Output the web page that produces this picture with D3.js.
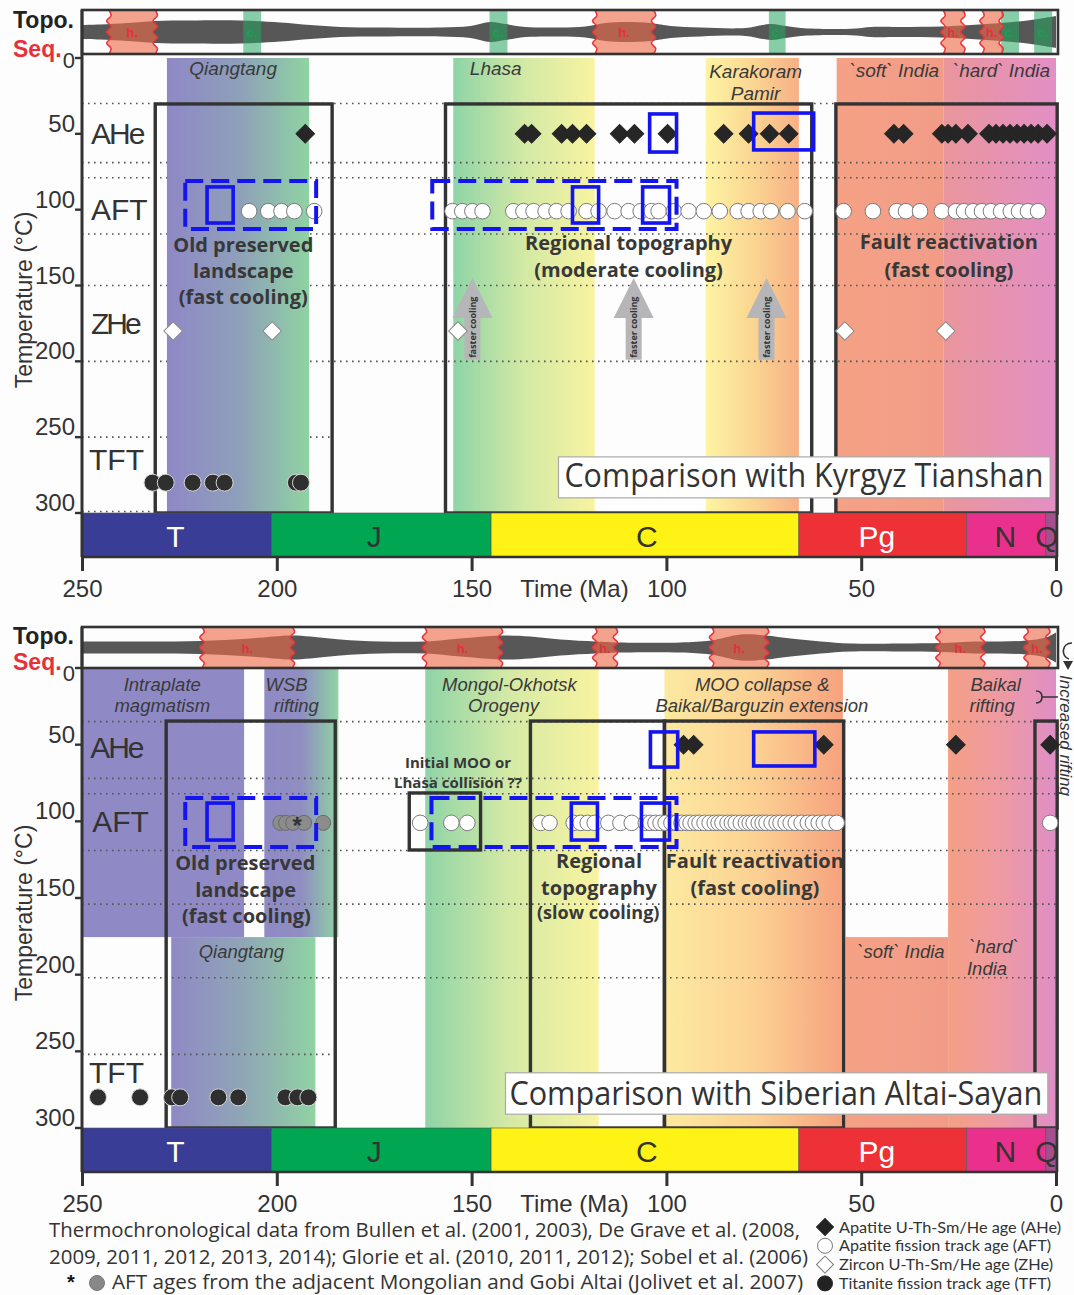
<!DOCTYPE html>
<html>
<head>
<meta charset="utf-8">
<title>Thermochronology comparison</title>
<script src="https://cdn.jsdelivr.net/npm/d3@7/dist/d3.min.js"></script>
<style>
  html, body { margin: 0; padding: 0; background: #fdfdfd; }
  svg { display: block; }
</style>
</head>
<body>
<svg id="chart" width="1074" height="1295"></svg>
<script>
// ---------------- data ----------------
const periodNames    = ["T", "J", "C", "Pg", "N", "Q"];
const periodBounds   = [250, 201.3, 145, 66, 23, 2.6, 0];
const periodLabelAge = [226, 175, 105, 46, 13, 2.3];
const timeTicks = [250, 200, 150, 100, 50, 0];
const tempTicks = [0, 50, 100, 150, 200, 250, 300];

// temperature (°C) of each method row
const rowTemp = { AHe: 50, AFT: 101, ZHe: 180, TFT: 280 };

// Kyrgyz Tianshan ages (Ma)
const kyrAHe = [192.7, 136.4, 134.6, 126.9, 124.1, 120.5, 112.0, 108.2, 99.7, 85.3, 78.9, 73.5, 68.6,
  41.6, 39.1, 29.3, 27.7, 25.7, 22.6, 17.2, 15.4, 13.6, 11.8, 10.0, 8.2, 6.4, 4.6, 2.3];
const kyrAFT = [207.1, 202.2, 198.8, 195.5, 190.4, 154.9, 152.4, 149.8, 147.2, 139.3, 136.7, 134.1,
  131.0, 128.2, 125.1, 120.5, 117.4, 113.3, 109.7, 106.6, 103.8, 102.0, 98.1, 94.3, 90.4, 86.3, 81.7,
  78.9, 75.8, 73.2, 68.9, 64.5, 54.5, 47.0, 40.9, 38.5, 34.9, 29.3, 25.7, 23.6, 21.3, 19.0, 16.7,
  14.1, 11.6, 9.5, 7.2, 4.6];
const kyrZHe = [226.6, 201.2, 153.5, 54.2, 28.3];
const kyrTFT = [231.9, 228.5, 221.6, 216.4, 213.4, 195.1, 193.8];

// Siberian Altai-Sayan ages (Ma)
const altAHe = [95.6, 93.0, 59.6, 25.7, 1.5];
const altAFT = [163.2, 155.2, 151.1, 132.3, 130.0, 123.8, 122.0, 120.2, 118.4, 114.9, 111.8, 108.9,
  105.3, 104.1, 102.8, 101.5, 100.2, 98.7, 97.4, 96.1, 94.8, 93.8, 92.5, 91.5, 90.2, 88.9, 87.6, 86.6,
  85.6, 84.3, 83.2, 82.2, 80.9, 79.6, 78.6, 77.6, 76.3, 75.3, 74.3, 73.0, 71.7, 70.7, 69.4, 68.1,
  66.8, 65.3, 63.7, 62.4, 60.9, 59.6, 58.1, 56.3, 1.5];
const altAFTMongolia = [199.1, 197.6, 195.8, 193.0, 188.1];
const altTFT = [245.9, 235.1, 226.9, 224.8, 215.0, 209.9, 197.8, 194.7, 191.9];

// topographic sequence: [age Ma, relative relief]
const kyrTopo = [[250, 7], [245.4, 7.5], [238.2, 9], [231.2, 11], [222.3, 11.5], [209.4, 11.5],
  [199.1, 9.5], [191.4, 7], [183.7, 5], [173.4, 4.5], [158, 4.5], [150.3, 6], [145.2, 10], [141.3, 8],
  [136.2, 5], [127.2, 4.5], [120.8, 5.5], [115.6, 9], [110.5, 10], [104.1, 9], [98.9, 6], [91.2, 4.5],
  [79.7, 4], [73.2, 8], [69.4, 6], [65.5, 4], [57.8, 3], [51.4, 3.5], [47.5, 5], [39.8, 5], [29.5, 5.5],
  [21.8, 7], [14.1, 9], [6.4, 12], [0, 16]];
const altTopo = [[250, 6], [232.5, 6], [219.7, 6.5], [206.8, 9], [196.5, 12], [191.4, 11], [183.7, 8],
  [173.4, 6], [161.9, 6], [152.9, 9], [142.6, 12], [134.9, 11], [127.2, 8], [118.2, 6], [111.8, 5],
  [96.4, 5], [88.6, 7], [80.9, 13], [74.5, 12], [68.1, 9], [60.4, 6], [52.7, 4], [39.8, 4], [29.5, 4.5],
  [20.6, 6], [14.1, 6], [7.7, 7], [2.6, 10], [0, 15]];

// hiatus (h.) and conglomerate (c.) intervals [older, younger] Ma
const kyrHiatus = [[243.1, 231.2], [118.4, 103.3], [29.0, 23.9], [19.0, 14.1]];
const kyrConglomerate = [[208.6, 204.0], [145.4, 140.8], [73.7, 69.4], [14.1, 9.5], [5.6, 1.0]];
const altHiatus = [[219.2, 196.0], [162.1, 142.6], [118.4, 113.1], [88.4, 74.3], [30.3, 18.8], [7.7, 2.1]];

// tectonic background intervals: [id, older Ma, younger Ma, top °C, bottom °C]
const kyrBands = [["qiangtang", 228.2, 191.7, 0, 300], ["lhasa", 154.7, 118.4, 0, 300],
  ["karakoram", 89.9, 66.0, 0, 300], ["softIndia", 56.3, 28.8, 0, 300], ["hardIndia", 28.8, 0, 0, 300]];
const altBands = [["intraplate", 250, 208.4, 0, 175.5], ["wsb", 203.2, 184.2, 0, 175.5],
  ["qiangtang2", 227.1, 190.1, 175.5, 300], ["mooOrogeny", 161.9, 117.4, 0, 300],
  ["mooCollapse", 100.5, 54.7, 0, 300], ["softIndia2", 54.0, 27.7, 175.5, 300], ["baikal", 27.7, 0, 0, 300]];

// interpreted cooling windows [older, younger, top °C, bottom °C]
const kyrWindows = [[231.2, 185.8, 30.3, 300], [156.7, 62.7, 30.3, 300], [56.5, -0.3, 30.3, 300]];
const altWindows = [[228.4, 185.0, 34.6, 300], [166.0, 147.7, 81.5, 118.7], [134.9, 100.5, 34.6, 300],
  [100.5, 54.5, 34.6, 300], [5.4, -0.3, 34.6, 300]];
const kyrDashed = [[223.5, 189.9, 81.1, 112.7], [160.1, 97.4, 81.1, 112.7]];
const altDashed = [[223.5, 189.9, 84.8, 116.8], [160.3, 97.4, 84.8, 116.8]];
const kyrPeaks = [[217.9, 211.2, 85, 108.8], [124.1, 117.4, 85, 108.8], [106.1, 99.2, 85, 108.8],
  [104.3, 97.4, 36.9, 62], [77.6, 62.2, 36.3, 60.6]];
const altPeaks = [[217.9, 211.2, 88.1, 112.2], [124.4, 117.7, 88.1, 112.2], [106.4, 99.2, 88.1, 112.2],
  [104.1, 97.1, 41.7, 64.6], [77.6, 61.9, 41.7, 63.9]];

// "faster cooling" arrows (age Ma)
const kyrArrows = [149.8, 108.4, 74.3];

// text annotations [text, age Ma, °C]
const kyrRegions = [["Qiangtang", 211.2, 11.2], ["Lhasa", 143.8, 11.2], ["Karakoram", 77.1, 13.2],
  ["Pamir", 77.1, 27.7], ["`soft` India", 41.5, 12.8], ["`hard` India", 14.0, 12.8]];
const kyrNotes = [["Old preserved", 208.6, 127.9], ["landscape", 208.6, 145.0], ["(fast cooling)", 208.6, 162.2],
  ["Regional topography", 109.7, 126.6], ["(moderate cooling)", 109.7, 144.4],
  ["Fault reactivation", 27.5, 125.9], ["(fast cooling)", 27.5, 144.4]];
const altRegions = [["Intraplate", 229.4, 15.3], ["magmatism", 229.4, 28.7], ["WSB", 197.5, 15.3],
  ["rifting", 195.0, 28.7], ["Mongol-Okhotsk", 140.3, 15.3], ["Orogeny", 141.8, 28.7],
  ["MOO collapse &", 75.4, 15.3], ["Baikal/Barguzin extension", 75.5, 28.7], ["Baikal", 15.5, 15.3],
  ["rifting", 16.4, 28.7], ["Qiangtang", 209.1, 189.2], ["`soft` India", 39.8, 189.2],
  ["`hard`", 15.9, 186], ["India", 17.7, 200]];
const altNotes = [["Old preserved", 208.1, 131.8], ["landscape", 208.0, 149.4], ["(fast cooling)", 207.8, 166.3],
  ["Regional", 117.3, 130.5], ["topography", 117.3, 148.1], ["Fault reactivation", 77.3, 130.5],
  ["(fast cooling)", 77.3, 148.1]];

// ---------------- drawing ----------------
const ARIAL = "'Liberation Sans', Arial, sans-serif";
const SEGOE = "'Open Sans', 'Noto Sans', sans-serif";
const INK = "#333";

const svg = d3.select("#chart");
const defs = svg.append("defs");
const x = d3.scaleLinear().domain([250, 0]).range([82, 1056]);
const relief = d3.scaleLinear().domain([0, 20]).range([0, 20]);

const bandStops = {
  qiangtang: ["#8f88c6", "#8e9fba", "#8fd3a2"],
  lhasa: ["#8ed4a7", "#d3e9a5", "#f8f3a0"],
  karakoram: ["#fdf4a3", "#fbd692", "#f7b085"],
  softIndia: ["#f5a185", "#f29c88"],
  hardIndia: ["#e9969c", "#e38fc5"],
  intraplate: ["#8f89c5", "#8f89c5"],
  wsb: ["#8f89c5", "#8f8ec1", "#8fd3a3"],
  qiangtang2: ["#8f89c6", "#8fa6b6", "#8fd3a3"],
  mooOrogeny: ["#8fd4a7", "#d6eaa5", "#f8f3a0"],
  mooCollapse: ["#fde9a0", "#fcd293", "#f6a27e"],
  softIndia2: ["#f5a185", "#f29c88"],
  baikal: ["#f49f85", "#ee9aa4", "#df8ec6"]
};
Object.entries(bandStops).forEach(([id, cols]) => {
  const lg = defs.append("linearGradient").attr("id", "g-" + id)
    .attr("x1", 0).attr("x2", 1).attr("y1", 0).attr("y2", 0);
  cols.forEach((c, i) => lg.append("stop").attr("offset", i / (cols.length - 1)).attr("stop-color", c));
});
const periodColors = ["#3a3d96", "#00a651", "#fff215", "#ed3136", "#e8308c", "#a4508f"];
const periodText = ["#fff", INK, INK, "#fff", INK, INK];

function rectOf(g, r, y) {
  return g.append("rect")
    .attr("x", x(r[0])).attr("width", x(r[1]) - x(r[0]))
    .attr("y", y(r[2])).attr("height", y(r[3]) - y(r[2]));
}

const waveLine = d3.line().curve(d3.curveCatmullRom);
function wavyEdge(xe, y0, y1, sign) {
  const n = 8;
  return d3.range(n + 1).map(i => [xe + ((i > 0 && i < n) ? (i % 2 ? 2.2 : -2.2) * sign : 0), y0 + (y1 - y0) * i / n]);
}

function drawPanel(p) {
  const y = p.y;
  const g = svg.append("g");

  // background bands
  const bandG = g.append("g");
  p.bands.forEach(b => {
    if (p.bandsOverGrid && p.bandsOverGrid.includes(b[0])) return;
    rectOf(bandG, b.slice(1), y).attr("fill", `url(#g-${b[0]})`);
  });

  // closure-temperature reference lines
  p.grid.forEach(gl => {
    g.append("line").attr("x1", x(gl[1])).attr("x2", x(gl[2]))
      .attr("y1", y(gl[0])).attr("y2", y(gl[0]))
      .attr("stroke", "#555").attr("stroke-width", 1.6).attr("stroke-dasharray", "1.6,4.4");
  });
  p.bands.forEach(b => {
    if (p.bandsOverGrid && p.bandsOverGrid.includes(b[0])) rectOf(g, b.slice(1), y).attr("fill", `url(#g-${b[0]})`);
  });

  // cooling windows
  p.windows.forEach(w => rectOf(g, w, y).attr("fill", "none").attr("stroke", INK).attr("stroke-width", 3.4));

  // faster-cooling arrows
  (p.arrows || []).forEach(a => {
    const cx = x(a);
    const pts = [[cx, y(145)], [cx + 20, y(171.4)], [cx + 8, y(171.4)], [cx + 8, y(199)],
      [cx - 8, y(199)], [cx - 8, y(171.4)], [cx - 20, y(171.4)]];
    g.append("path").attr("d", d3.line()(pts) + "Z").attr("fill", "#b6b6b8");
    g.append("text").attr("transform", `translate(${cx + 3.5},${y(177.5)}) rotate(-90)`)
      .attr("text-anchor", "middle").attr("font-family", SEGOE).attr("font-weight", 700)
      .attr("font-size", 9).attr("fill", INK).text("faster cooling");
  });

  // region names
  p.regions.forEach(r => {
    g.append("text").attr("x", x(r[1])).attr("y", y(r[2])).attr("text-anchor", "middle")
      .attr("font-family", ARIAL).attr("font-style", "italic").attr("font-size", p.regionSize)
      .attr("fill", "#3a3a3a").text(r[0]);
  });
  // interpretation notes
  p.notes.forEach(r => {
    g.append("text").attr("x", x(r[1])).attr("y", y(r[2])).attr("text-anchor", "middle")
      .attr("font-family", SEGOE).attr("font-weight", 700).attr("font-size", r[3] || 20)
      .attr("fill", "#383838").text(r[0]);
  });

  // data points
  const byAge = arr => arr.slice().sort((a, b) => b - a);
  const diamond = (ages, t, fill, stroke, half) => g.append("g").selectAll("path").data(byAge(ages)).join("path")
    .attr("d", d3.symbol(d3.symbolSquare, 2 * half * half)())
    .attr("transform", d => `translate(${x(d)},${y(t)}) rotate(45)`)
    .attr("fill", fill).attr("stroke", stroke).attr("stroke-width", 1);
  const circle = (ages, t, fill, stroke, r) => g.append("g").selectAll("circle").data(byAge(ages)).join("circle")
    .attr("cx", d => x(d)).attr("cy", y(t)).attr("r", r)
    .attr("fill", fill).attr("stroke", stroke).attr("stroke-width", 1);
  if (p.AHe) diamond(p.AHe, rowTemp.AHe, "#262626", "#262626", 9.3);
  if (p.ZHe) diamond(p.ZHe, rowTemp.ZHe, "#fff", "#8a8a8a", 9.3);
  if (p.AFTgrey) circle(p.AFTgrey, rowTemp.AFT, "#8c8c8c", "#6a6a6a", 7.5);
  if (p.AFT) circle(p.AFT, rowTemp.AFT, "#fff", "#7a7a7a", 7.8);
  if (p.TFT) circle(p.TFT, rowTemp.TFT, "#2f2f2f", "#d8d8d8", 8.5);
  if (p.star) g.append("text").attr("x", x(p.star[0])).attr("y", y(p.star[1])).attr("text-anchor", "middle")
    .attr("font-family", ARIAL).attr("font-weight", 700).attr("font-size", 24).attr("fill", INK).text("*");

  // age-peak boxes
  p.dashed.forEach(w => rectOf(g, w, y).attr("fill", "none").attr("stroke", "#1414f0")
    .attr("stroke-width", 4).attr("stroke-dasharray", "18,8"));
  p.peaks.forEach(w => rectOf(g, w, y).attr("fill", "none").attr("stroke", "#1414f0").attr("stroke-width", 3.6));

  // comparison title
  rectOf(g, p.title.box, y).attr("fill", "#fff").attr("stroke", "#aaa").attr("stroke-width", 1.2);
  g.append("text").attr("x", x(p.title.at[0])).attr("y", y(p.title.at[1])).attr("text-anchor", "middle")
    .attr("font-family", SEGOE).attr("font-size", 32).attr("fill", INK)
    .attr("textLength", p.title.len).attr("lengthAdjust", "spacingAndGlyphs").text(p.title.text);

  // method labels
  p.methods.forEach(m => {
    g.append("text").attr("x", x(m[1])).attr("y", y(m[2])).attr("font-family", ARIAL)
      .attr("font-size", 30).attr("letter-spacing", m[3]).attr("fill", INK).text(m[0]);
  });

  // topographic sequence strip
  const [t0, t1] = p.topo;
  const mid = (t0 + t1) / 2;
  const clipId = "clip-" + p.key;
  defs.append("clipPath").attr("id", clipId).append("rect")
    .attr("x", x(250)).attr("y", t0).attr("width", x(0) + 2 - x(250)).attr("height", t1 - t0);
  const tg = g.append("g").attr("clip-path", `url(#${clipId})`);
  tg.append("path").datum(p.topoProfile)
    .attr("d", d3.area().x(d => x(d[0])).y0(d => mid - relief(d[1])).y1(d => mid + relief(d[1]))
      .curve(d3.curveCatmullRom)).attr("fill", "#575757");
  (p.conglomerate || []).forEach(c => {
    tg.append("rect").attr("x", x(c[0])).attr("width", x(c[1]) - x(c[0])).attr("y", t0).attr("height", t1 - t0)
      .attr("fill", "#27a862").attr("fill-opacity", 0.55);
    tg.append("text").attr("x", (x(c[0]) + x(c[1])) / 2).attr("y", mid + 5).attr("text-anchor", "middle")
      .attr("font-family", ARIAL).attr("font-weight", 700).attr("font-size", 13).attr("fill", "#17a050").text("c.");
  });
  p.hiatus.forEach(h => {
    const L = wavyEdge(x(h[0]), t0, t1, 1), R = wavyEdge(x(h[1]), t1, t0, 1);
    const fillPath = waveLine(L) + "L" + waveLine(R).slice(1) + "Z";
    tg.append("path").attr("d", fillPath).attr("fill", "#ee6a4a").attr("fill-opacity", 0.62);
    tg.append("path").attr("d", waveLine(L)).attr("fill", "none").attr("stroke", "#e8343a").attr("stroke-width", 1.6);
    tg.append("path").attr("d", waveLine(R)).attr("fill", "none").attr("stroke", "#e8343a").attr("stroke-width", 1.6);
    tg.append("text").attr("x", (x(h[0]) + x(h[1])) / 2).attr("y", mid + 5).attr("text-anchor", "middle")
      .attr("font-family", ARIAL).attr("font-weight", 700).attr("font-size", 13).attr("fill", "#e5303a").text("h.");
  });
  g.append("rect").attr("x", x(250)).attr("y", t0).attr("width", x(0) + 2 - x(250)).attr("height", t1 - t0)
    .attr("fill", "none").attr("stroke", INK).attr("stroke-width", 2.6);
  g.append("text").attr("x", 13).attr("y", p.topoLabelY[0]).attr("font-family", ARIAL).attr("font-weight", 700)
    .attr("font-size", 23).attr("fill", "#222").text("Topo.");
  g.append("text").attr("x", 13).attr("y", p.topoLabelY[1]).attr("font-family", ARIAL).attr("font-weight", 700)
    .attr("font-size", 23).attr("fill", "#e8303a").text("Seq.");

  // geological time bar
  const barTop = y(300), barBot = barTop + 44;
  periodNames.forEach((nm, i) => {
    g.append("rect").attr("x", x(periodBounds[i])).attr("width", x(periodBounds[i + 1]) - x(periodBounds[i]))
      .attr("y", barTop).attr("height", barBot - barTop).attr("fill", periodColors[i])
      .attr("stroke", "#555").attr("stroke-width", 0.6);
    g.append("text").attr("x", x(periodLabelAge[i])).attr("y", barTop + 34).attr("text-anchor", "middle")
      .attr("font-family", ARIAL).attr("font-size", 30).attr("fill", periodText[i]).text(nm);
  });
  g.append("line").attr("x1", x(250)).attr("x2", x(0) + 1.5).attr("y1", barBot).attr("y2", barBot)
    .attr("stroke", INK).attr("stroke-width", 2.6);
  g.append("line").attr("x1", x(0) + 1).attr("x2", x(0) + 1).attr("y1", barTop).attr("y2", barBot)
    .attr("stroke", INK).attr("stroke-width", 2.6);

  // time axis
  const xAxis = g.append("g").attr("transform", `translate(0,${barBot})`)
    .call(d3.axisBottom(x).tickValues(timeTicks).tickSize(14).tickPadding(9).tickFormat(d3.format("d")));
  xAxis.select(".domain").remove();
  xAxis.selectAll(".tick line").attr("stroke", INK).attr("stroke-width", 3);
  xAxis.selectAll(".tick text").attr("font-family", ARIAL).attr("font-size", 24).attr("fill", INK);
  g.append("text").attr("x", x(123.6)).attr("y", barBot + 40).attr("text-anchor", "middle")
    .attr("font-family", ARIAL).attr("font-size", 24).attr("fill", INK).text("Time (Ma)");

  // temperature axis
  g.append("line").attr("x1", x(250)).attr("x2", x(250)).attr("y1", t0).attr("y2", barBot)
    .attr("stroke", INK).attr("stroke-width", 3);
  tempTicks.forEach(t => {
    g.append("line").attr("x1", x(250) - 7).attr("x2", x(250)).attr("y1", y(t)).attr("y2", y(t))
      .attr("stroke", INK).attr("stroke-width", 2.4);
    g.append("text").attr("x", 75).attr("y", t === 0 ? y(t) + p.zeroDy : y(t) - 2)
      .attr("text-anchor", "end").attr("font-family", ARIAL).attr("font-size", t === 0 ? 22 : 24)
      .attr("fill", INK).text(t);
  });
  g.append("text").attr("transform", `translate(32,${p.yTitleY}) rotate(-90)`).attr("text-anchor", "middle")
    .attr("font-family", ARIAL).attr("font-size", 23).attr("fill", INK).text("Temperature (°C)");
}

// upper panel: Kyrgyz Tianshan
drawPanel({
  key: "kyr",
  y: d3.scaleLinear().domain([0, 300]).range([58, 513]),
  topo: [10, 54], topoLabelY: [28, 57], zeroDy: 10, yTitleY: 300, regionSize: 19,
  bands: kyrBands, bandsOverGrid: ["qiangtang"],
  grid: [[30, 250, 0], [69, 250, 0], [79, 250, 0], [116, 250, 0], [150, 250, 0], [200, 250, 0], [250, 250, 185.5], [299, 250, 232]],
  windows: kyrWindows, dashed: kyrDashed, peaks: kyrPeaks, arrows: kyrArrows,
  regions: kyrRegions, notes: kyrNotes,
  AHe: kyrAHe, AFT: kyrAFT, ZHe: kyrZHe, TFT: kyrTFT,
  methods: [["AHe", 247.7, 56.7, -2], ["AFT", 247.7, 106.8, 0], ["ZHe", 247.7, 182, -3], ["TFT", 248.2, 271.6, 0]],
  title: { box: [127.7, 1.5, 263, 290], at: [64.7, 282.8], len: 479, text: "Comparison with Kyrgyz Tianshan" },
  topoProfile: kyrTopo, hiatus: kyrHiatus, conglomerate: kyrConglomerate
});

// lower panel: Siberian Altai-Sayan
drawPanel({
  key: "alt",
  y: d3.scaleLinear().domain([0, 300]).range([668, 1128]),
  topo: [627, 668], topoLabelY: [644, 670], zeroDy: 13, yTitleY: 913, regionSize: 18.5,
  bands: altBands,
  grid: [[35, 250, 0], [72, 250, 0], [82, 250, 0], [119, 250, 0], [154, 250, 0], [202, 250, 0], [252, 250, 186]],
  windows: altWindows, dashed: altDashed, peaks: altPeaks,
  regions: altRegions,
  notes: altNotes.concat([["(slow cooling)", 117.5, 163.7, 18], ["Initial MOO or", 153.5, 65.2, 15],
    ["Lhasa collision ??", 153.5, 78.3, 15]]),
  AHe: altAHe, AFT: altAFT, AFTgrey: altAFTMongolia, TFT: altTFT, star: [194.8, 108.5],
  methods: [["AHe", 247.9, 58.7, -2], ["AFT", 247.4, 107, 0], ["TFT", 248.2, 270.7, 0]],
  title: { box: [141.3, 2.1, 264, 291], at: [71.9, 285], len: 533, text: "Comparison with Siberian Altai-Sayan" },
  topoProfile: altTopo, hiatus: altHiatus
});

// increased rifting marker
svg.append("path").attr("d", "M1072,643 C1061,643 1061,657 1069,659").attr("fill", "none")
  .attr("stroke", INK).attr("stroke-width", 1.6);
svg.append("path").attr("d", "M1063,661 L1073,661 L1068,670 Z").attr("fill", INK);
svg.append("path").attr("d", "M1036,691 Q1042,691 1042,697 Q1042,703 1036,703 M1042,697 L1058,697")
  .attr("fill", "none").attr("stroke", INK).attr("stroke-width", 1.6);
svg.append("text").attr("transform", "translate(1060,675) rotate(90)").attr("font-family", ARIAL)
  .attr("font-style", "italic").attr("font-size", 17).attr("fill", INK).text("Increased rifting");

// sources
const notes = svg.append("g").attr("font-family", SEGOE).attr("fill", INK);
notes.append("text").attr("x", 49).attr("y", 1237).attr("font-size", 19.5).attr("textLength", 751)
  .attr("lengthAdjust", "spacingAndGlyphs")
  .text("Thermochronological data from Bullen et al. (2001, 2003), De Grave et al. (2008,");
notes.append("text").attr("x", 49).attr("y", 1264).attr("font-size", 19.5).attr("textLength", 759)
  .attr("lengthAdjust", "spacingAndGlyphs")
  .text("2009, 2011, 2012, 2013, 2014); Glorie et al. (2010, 2011, 2012); Sobel et al. (2006)");
notes.append("text").attr("x", 67).attr("y", 1289).attr("font-family", ARIAL).attr("font-weight", 700)
  .attr("font-size", 20).attr("fill", "#111").text("*");
notes.append("circle").attr("cx", 97).attr("cy", 1283).attr("r", 7.5).attr("fill", "#888").attr("stroke", "#777");
notes.append("text").attr("x", 112).attr("y", 1289).attr("font-size", 19.5).attr("textLength", 691)
  .attr("lengthAdjust", "spacingAndGlyphs")
  .text("AFT ages from the adjacent Mongolian and Gobi Altai (Jolivet et al. 2007)");

// legend
const legendItems = [
  ["Apatite U-Th-Sm/He age (AHe)", "diamond", "#222", "#222", 222],
  ["Apatite fission track age (AFT)", "circle", "#fff", "#777", 212],
  ["Zircon U-Th-Sm/He age (ZHe)", "diamond", "#fff", "#777", 214],
  ["Titanite fission track age (TFT)", "circle", "#222", "#222", 212]
];
const lg = svg.append("g");
legendItems.forEach((it, i) => {
  const cy = 1227 + i * 18.8;
  if (it[1] === "diamond") {
    lg.append("path").attr("d", d3.symbol(d3.symbolSquare, 2 * 8.5 * 8.5)())
      .attr("transform", `translate(825,${cy}) rotate(45)`).attr("fill", it[2]).attr("stroke", it[3]);
  } else {
    lg.append("circle").attr("cx", 825).attr("cy", cy).attr("r", 7.5).attr("fill", it[2]).attr("stroke", it[3]);
  }
  lg.append("text").attr("x", 839).attr("y", cy + 5.5).attr("font-family", "Lato, 'Open Sans', sans-serif")
    .attr("font-size", 15).attr("fill", INK).attr("textLength", it[4]).attr("lengthAdjust", "spacingAndGlyphs")
    .text(it[0]);
});
</script>
</body>
</html>
